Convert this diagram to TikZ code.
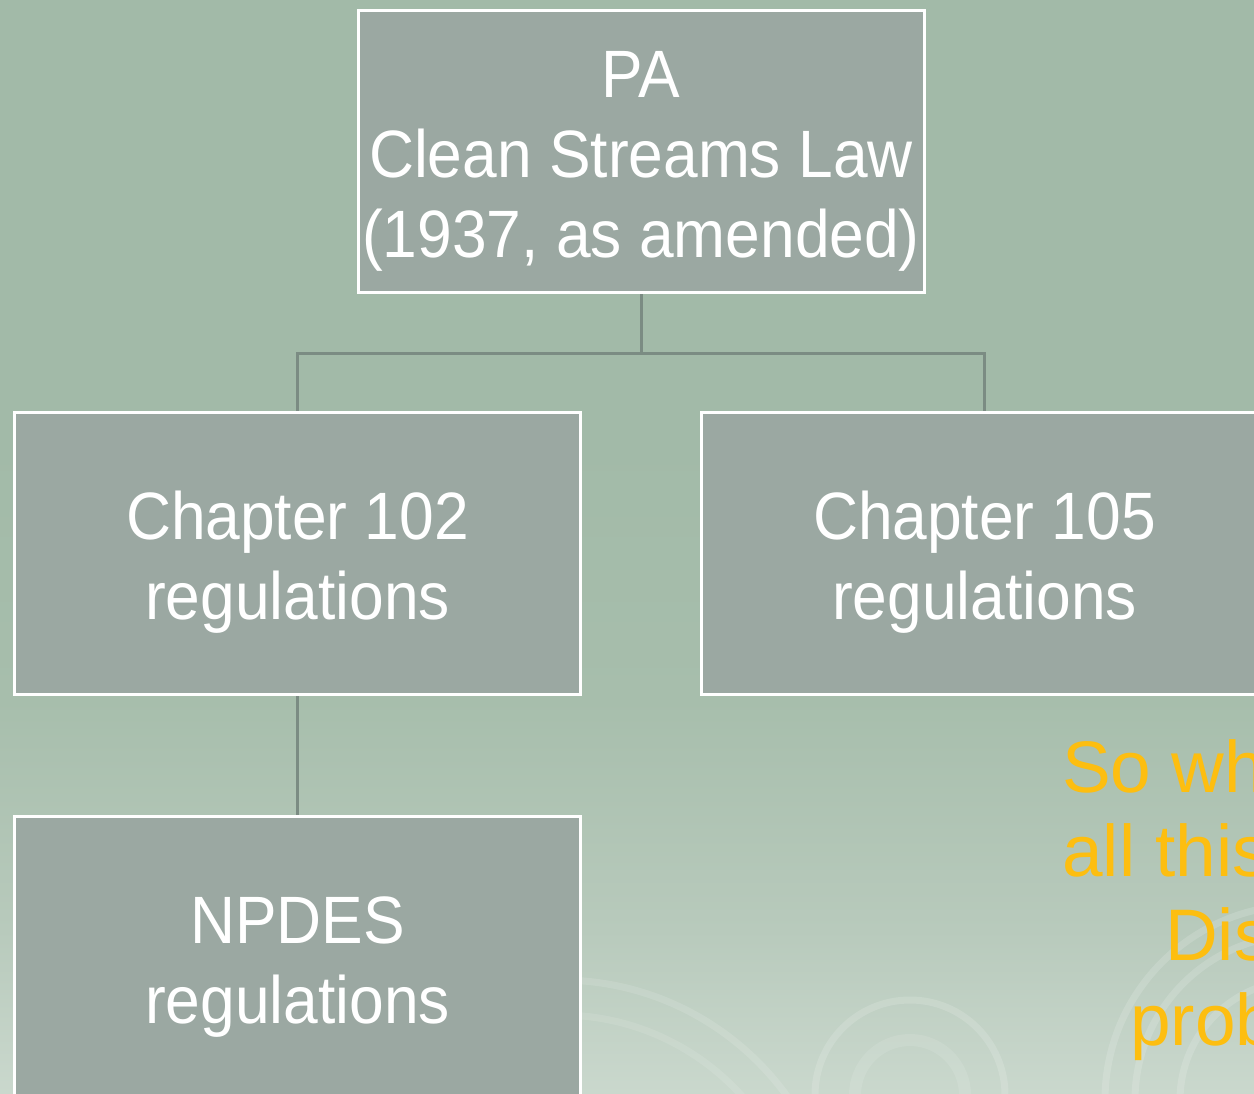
\documentclass[tikz,border=0pt]{standalone}
\usepackage{fontspec}
\setmainfont{Liberation Sans}
\newfontfamily\boxfont[FakeStretch=0.93]{Liberation Sans}
\definecolor{bgtop}{HTML}{A2BAA8}
\definecolor{bgmid}{HTML}{A7BEAC}
\definecolor{bglow}{HTML}{B8CABC}
\definecolor{bgbot}{HTML}{CAD8CD}
\definecolor{boxfill}{HTML}{9BA8A2}
\definecolor{connc}{HTML}{7B8C83}
\definecolor{orangetxt}{HTML}{FDBE10}
\pgfdeclareverticalshading{bgshade}{100bp}{color(0bp)=(bgbot); color(25bp)=(bgbot); color(32.5bp)=(bglow); color(43bp)=(bgmid); color(55bp)=(bgtop); color(75bp)=(bgtop); color(100bp)=(bgtop)}
\tikzset{
  orgbox/.style={draw=white, line width=3bp, fill=boxfill, minimum width=566bp, minimum height=282bp,
    inner sep=0pt, text=white, align=center, text height=132bp, text depth=0bp,
    font=\boxfont\fontsize{67bp}{80bp}\selectfont},
  threeline/.style={text height=212bp},
  conn/.style={draw=connc, line width=3bp},
  swirl/.style={draw=white, opacity=0.15, line width=7bp},
  asidetxt/.style={text=orangetxt, anchor=base west, inner sep=0pt, font=\fontsize{73bp}{85bp}\selectfont}
}
\begin{document}
\begin{tikzpicture}[x=1bp,y=-1bp]
\useasboundingbox (0,0) rectangle (1254,1094);
\clip (0,0) rectangle (1254,1094);
\shade[shading=bgshade] (0,0) rectangle (1254,1094);
% decorative swirls
\draw[swirl] (1300,1100) circle[radius=195];
\draw[swirl] (1300,1100) circle[radius=165];
\draw[swirl] (1300,1100) circle[radius=120];
\draw[swirl] (910,1095) circle[radius=95];
\draw[swirl, opacity=0.1, line width=12bp] (910,1095) circle[radius=55];
\draw[swirl, opacity=0.12] (560,1260) circle[radius=280];
\draw[swirl, opacity=0.1] (560,1260) circle[radius=245];
% boxes
\node[orgbox, threeline] (law) at (641,151.5) {PA\\Clean Streams Law\\(1937, as amended)};
\node[orgbox] (ch102) at (297.5,553.5) {Chapter 102\\regulations};
\node[orgbox] (ch105) at (984.5,553.5) {Chapter 105\\regulations};
\node[orgbox] (npdes) at (297.5,957.5) {NPDES\\regulations};
% connectors
\draw[conn] (law.south) -- ++(0,59) coordinate (junc) -| (ch102.north);
\draw[conn] (junc) -| (ch105.north);
\draw[conn] (ch102.south) -- (npdes.north);
% side text (cut off at the right edge)
\node[asidetxt] (t1) at (1062,792) {So wh};
\node[asidetxt] (t2) at (1062,876) {all this};
\node[asidetxt] (t3) at (1165,960) {Dis};
\node[asidetxt] (t4) at (1130,1045) {prob};
\end{tikzpicture}
\end{document}
